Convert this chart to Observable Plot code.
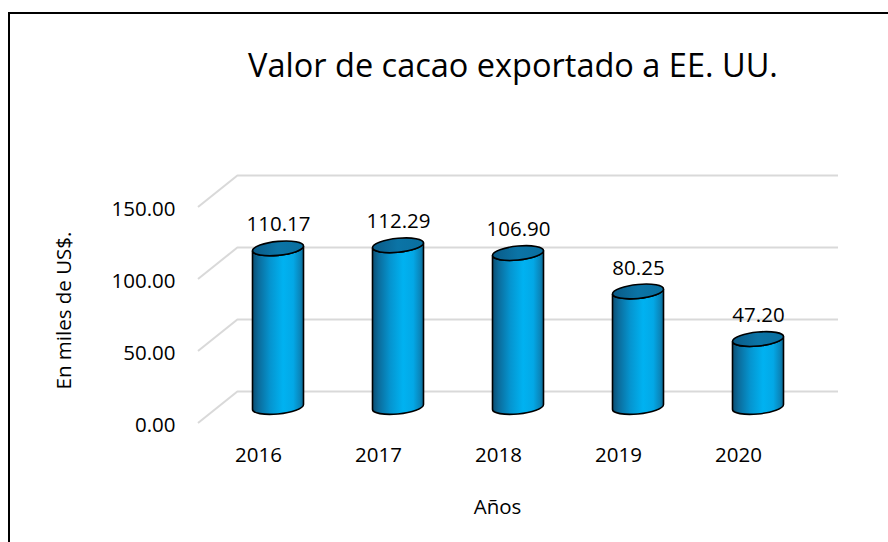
<!DOCTYPE html>
<html>
<head>
<meta charset="utf-8">
<script src="https://cdn.jsdelivr.net/npm/d3@7"></script>
<script src="https://cdn.jsdelivr.net/npm/@observablehq/plot@0.6"></script>
<style>
  html, body { margin: 0; padding: 0; background: #fff; overflow: hidden; width: 888px; height: 542px; }
  #wrap { position: relative; width: 888px; height: 542px; font-family: "Open Sans", Lato, sans-serif; }
  #chart { position: absolute; left: 0; top: 0; }
  #title { position: absolute; left: 163px; width: 700px; top: 45px; text-align: center; font-size: 32.5px; line-height: 40px; color: #000; white-space: nowrap; }
  #frame { position: absolute; left: 8px; top: 12px; width: 1000px; height: 1000px; border: 2px solid #000; pointer-events: none; }
</style>
</head>
<body>
<div id="wrap">
  <div id="chart"></div>
  <div id="title"></div>
  <div id="frame"></div>
</div>
<script>
// ---- data ----
const titleText = "Valor de cacao exportado a EE. UU.";
const years = ["2016", "2017", "2018", "2019", "2020"];
const values = [110.17, 112.29, 106.90, 80.25, 47.20];
const yTicks = [0, 50, 100, 150];
const yLabel = "En miles de US$.";
const xLabel = "Años";

// ---- styling constants ----
const DX = 20, DY = -16;           // half depth offset (mid plane -> back wall)
const gridColor = "#d9d9d9";
const FS = 20.5;

const table = years.map((year, i) => ({year, value: values[i]}));

document.getElementById("title").textContent = titleText;

// side wall diagonals (front edge -> back wall), positioned with the y scale
function sideWall(index, scales, channels, dims) {
  const y = scales.y;
  const g = d3.create("svg:g").attr("stroke", gridColor).attr("stroke-width", 2);
  for (const t of yTicks) {
    g.append("line")
      .attr("x1", dims.marginLeft - DX).attr("y1", y(t) - DY)
      .attr("x2", dims.marginLeft + DX).attr("y2", y(t) + DY);
  }
  return g.node();
}

// cylinders drawn from the x band scale and the y scale
function cylinders(index, scales) {
  const x = scales.x, y = scales.y;
  const bw = typeof x.bandwidth === "function" ? x.bandwidth() : x.bandwidth;
  const g = d3.create("svg:g");
  const defs = g.append("defs");
  const body = defs.append("linearGradient").attr("id", "cylBody")
    .attr("x1", 0).attr("x2", 1).attr("y1", 0).attr("y2", 0);
  [[0, "#0b4e72"], [0.12, "#0b6c9c"], [0.35, "#0595d0"], [0.6, "#00b2f1"], [0.8, "#03a8e6"], [0.93, "#0a86bb"], [1, "#0b6690"]]
    .forEach(([o, c]) => body.append("stop").attr("offset", o).attr("stop-color", c));
  const top = defs.append("linearGradient").attr("id", "cylTop")
    .attr("x1", 0).attr("x2", 1).attr("y1", 0).attr("y2", 0);
  [[0, "#0a5a86"], [0.5, "#0b74a6"], [1, "#0a6f9f"]]
    .forEach(([o, c]) => top.append("stop").attr("offset", o).attr("stop-color", c));

  const rx = bw * 0.2125, ry = 7;
  table.forEach(d => {
    const cx = x(d.year) + bw / 2;
    const yt = y(d.value), yb = y(0);
    const c = g.append("g").attr("transform", `translate(${cx},0) skewY(-5.3)`);
    c.append("path")
      .attr("d", `M${-rx},${yt}L${-rx},${yb}A${rx},${ry} 0 0 0 ${rx},${yb}L${rx},${yt}A${rx},${ry} 0 0 1 ${-rx},${yt}Z`)
      .attr("fill", "url(#cylBody)").attr("stroke", "#000").attr("stroke-width", 1.6);
    c.append("ellipse")
      .attr("cx", 0).attr("cy", yt).attr("rx", rx).attr("ry", ry)
      .attr("fill", "url(#cylTop)").attr("stroke", "#000").attr("stroke-width", 1.6);
  });
  return g.node();
}

const plot = Plot.plot({
  width: 888,
  height: 542,
  marginLeft: 218,
  marginRight: 70,
  marginTop: 191,
  marginBottom: 135,
  style: {fontFamily: "'Open Sans', Lato, sans-serif", fontSize: FS + "px", color: "#000", background: "transparent"},
  x: {type: "band", domain: years, padding: 0, axis: null},
  y: {domain: [0, 150], axis: null},
  marks: [
    Plot.ruleY(yTicks, {dx: DX, dy: DY, stroke: gridColor, strokeWidth: 2}),
    sideWall,
    cylinders,
    Plot.text(table, {x: "year", y: "value", text: d => d.value.toFixed(2), dy: -24, fontSize: FS, fill: "#000"}),
    Plot.text(yTicks, {y: d => d, text: d => d.toFixed(2), frameAnchor: "left", textAnchor: "end", lineAnchor: "middle", dx: -43, dy: 18, fontSize: FS, fill: "#000"}),
    Plot.text(table, {x: "year", text: "year", frameAnchor: "bottom", lineAnchor: "middle", dx: -DX, dy: 48, fontSize: FS, fill: "#000"}),
    Plot.text([yLabel], {text: d => d, frameAnchor: "left", textAnchor: "middle", lineAnchor: "middle", rotate: -90, dx: -154, dy: 11, fontSize: FS, fill: "#000"}),
    Plot.text([xLabel], {text: d => d, frameAnchor: "bottom", textAnchor: "middle", lineAnchor: "middle", dx: -21, dy: 100, fontSize: FS, fill: "#000"})
  ]
});
document.getElementById("chart").appendChild(plot);
</script>
</body>
</html>
